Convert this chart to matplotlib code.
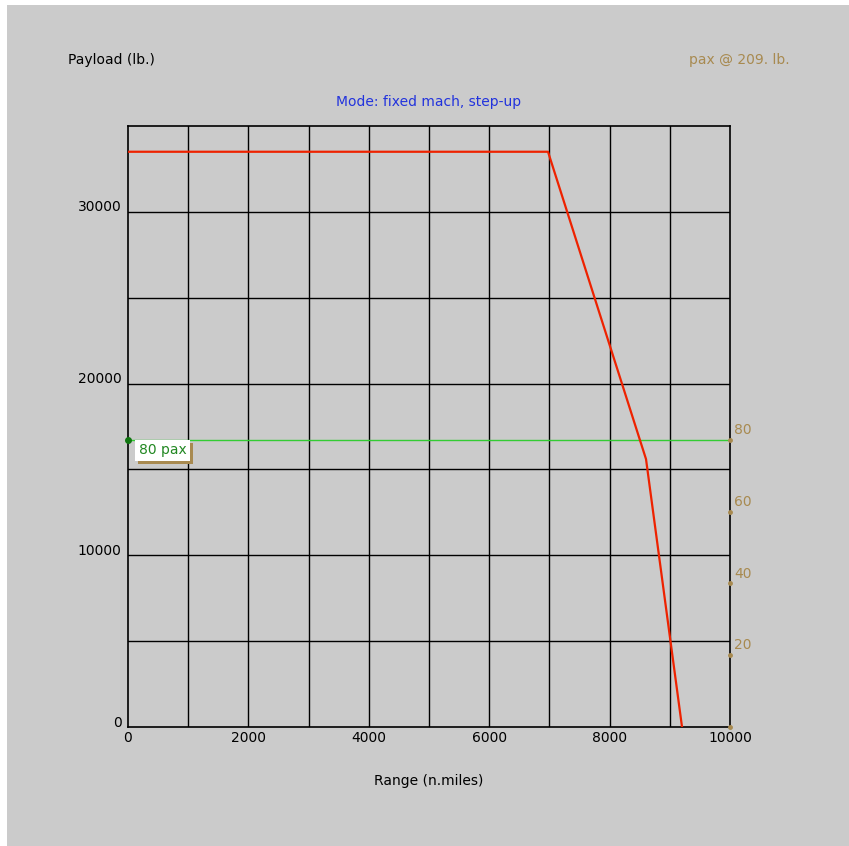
import matplotlib
matplotlib.use("Agg")
from matplotlib import pyplot as plt
from matplotlib.patches import Rectangle
import matplotlib.patheffects as pe
import matplotlib.transforms as mtransforms

# payload-range curve
range_nm = [0, 6977, 8605, 9203]
payload_lb = [33500, 33500, 15600, 0]

pax_weight = 209.0
pax_marks = [0, 20, 40, 60, 80]
pax_line = 80

x_ticks = [0, 2000, 4000, 6000, 8000, 10000]
y_ticks = [0, 10000, 20000, 30000]

bg = "#cbcbcb"
tan = "#a88a50"

fig = plt.figure(figsize=(8.49, 8.46), dpi=100, facecolor="white")
fig.patches.append(Rectangle((7 / 849, 0), 1, 1 - 5 / 846, transform=fig.transFigure,
                             facecolor=bg, edgecolor="none", zorder=-10))

ax = fig.add_axes([128 / 849, 1 - 727 / 846, 602 / 849, 601 / 846])
ax.set_facecolor(bg)
ax.set_xlim(0, 10000)
ax.set_ylim(0, 35000)

# grid every 1000 nm / 5000 lb
for gx in range(1000, 10000, 1000):
    ax.axvline(gx, color="black", lw=1.0, zorder=1)
for gy in range(5000, 35000, 5000):
    ax.axhline(gy, color="black", lw=1.0, zorder=1)
for s in ax.spines.values():
    s.set_color("black")
    s.set_linewidth(1.2)

ax.set_xticks(x_ticks)
ax.set_yticks(y_ticks)
ax.tick_params(length=0, labelsize=10, colors="black", pad=3)
ax.tick_params(axis="y", pad=4.5)
ax.set_yticklabels([str(v) for v in y_ticks])
ax.set_xticklabels([str(v) for v in x_ticks])
for lab in ax.get_yticklabels():
    lab.set_transform(lab.get_transform() + mtransforms.ScaledTranslation(0, 6 / 100, fig.dpi_scale_trans))

ax.plot(range_nm, payload_lb, color="#ee2200", lw=1.6, zorder=3)

# passenger line with a shadowed label
pax_lb = pax_line * pax_weight
ax.axhline(pax_lb, color="#33cc33", lw=1.0, zorder=2)
ax.plot([0], [pax_lb], "o", color="#117711", ms=4, clip_on=False, zorder=4)
pax_txt = ax.annotate("%d pax" % pax_line, xy=(0, pax_lb), xytext=(7.8, -7.6), textcoords="offset points",
                      color="#228822", fontsize=10, va="center", ha="left", zorder=5,
                      bbox=dict(boxstyle="square,pad=0.25", fc="white", ec="none"))
pax_txt.get_bbox_patch().set_path_effects(
    [pe.SimplePatchShadow(offset=(2.2, -2.2), shadow_rgbFace=tan, alpha=1.0), pe.Normal()])

# pax scale on the right edge
for p in pax_marks:
    ax.plot([10000], [p * pax_weight], "o", color=tan, ms=2.5, clip_on=False, zorder=4)
    if p > 0:
        ax.annotate(str(p), xy=(10000, p * pax_weight), xytext=(3, 2), textcoords="offset points",
                    color=tan, fontsize=10, ha="left", va="bottom")

fig.text(68 / 849, 1 - 60 / 846, "Payload (lb.)", fontsize=10, ha="left", va="center")
fig.text(790 / 849, 1 - 60 / 846, "pax @ %g. lb." % pax_weight, fontsize=10, ha="right", va="center", color=tan)
fig.text(429 / 849, 1 - 102 / 846, "Mode: fixed mach, step-up", fontsize=10, ha="center", va="center", color="#2233dd")
fig.text(429 / 849, 1 - 781 / 846, "Range (n.miles)", fontsize=10, ha="center", va="center")

fig.savefig("out.png", dpi=100, facecolor="white")
